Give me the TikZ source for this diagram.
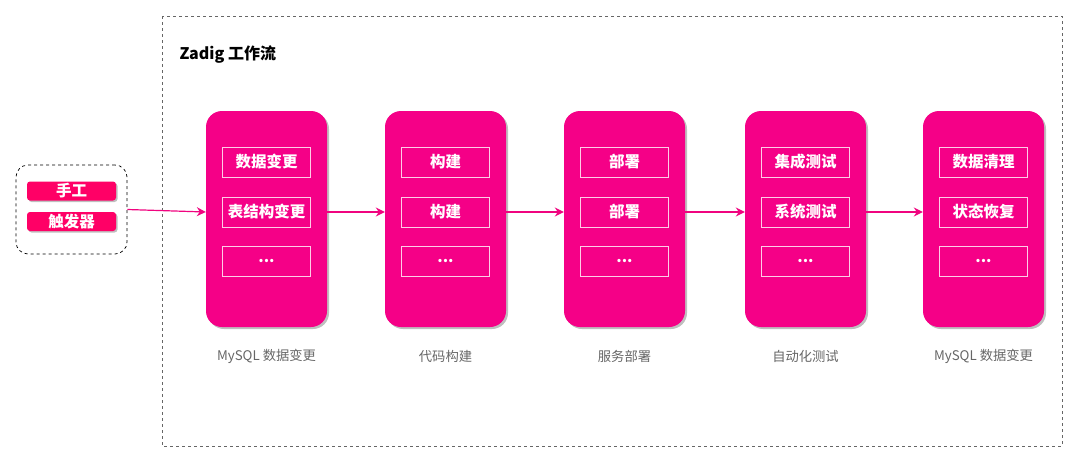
\documentclass[tikz,border=0pt]{standalone}
\usepackage{fontspec}
\setmainfont{Noto Sans CJK SC}
\usetikzlibrary{shadows,arrows.meta}
\definecolor{stagepink}{RGB}{245,0,135}
\definecolor{trigpink}{RGB}{255,0,102}
\definecolor{arrowpink}{RGB}{240,4,127}
\definecolor{labelgray}{RGB}{102,102,102}
\tikzset{
  stagebox/.style={fill=stagepink, draw=none, rounded corners=16pt, minimum width=121pt, minimum height=216pt, inner sep=0pt,
    drop shadow={shadow xshift=2pt, shadow yshift=-2pt, fill=black!25, opacity=1}},
  taskbox/.style={draw=white!80!stagepink, line width=0.8pt, minimum width=88pt, minimum height=30pt, inner sep=0pt,
    text=white, font=\fontsize{15.5}{17}\selectfont\bfseries},
  trigbox/.style={fill=trigpink, rounded corners=3pt, minimum width=89pt, minimum height=19pt, inner sep=0pt,
    text=white, font=\fontsize{15.5}{17}\selectfont\bfseries,
    drop shadow={shadow xshift=1.5pt, shadow yshift=-1.5pt, fill=black!25, opacity=1}},
  stagelabel/.style={text=labelgray, font=\fontsize{13.3}{15}\selectfont},
  flow/.style={draw=arrowpink, line width=1.2pt, -{Stealth[length=9pt,width=9pt,inset=3pt]}},
}
\begin{document}
\begin{tikzpicture}[x=1pt,y=-1pt]
\useasboundingbox (0,0) rectangle (1079,463);
% outer workflow frame
\draw[dashed, draw=black!60, line width=0.6pt] (162,16) rectangle (1062,446);
\node[anchor=west, font=\fontsize{16}{18}\selectfont\bfseries] (title) at (176,55) {Zadig 工作流};
% trigger group
\node[draw=black, dashed, rounded corners=12pt, line width=0.7pt, minimum width=111pt, minimum height=89pt] (trig) at (71.5,209.5) {};
\node[trigbox] (manual) at (71.5,191) {手工};
\node[trigbox] (trigger) at (71.5,221.5) {触发器};
% stages
\foreach \n/\cx in {s1/266.5, s2/445.5, s3/624.5, s4/805.5, s5/983.5}{
  \node[stagebox] (\n) at (\cx,219) {};
}
% tasks
\node[taskbox] (s1a) at (266.5,162) {数据变更};
\node[taskbox] (s1b) at (266.5,212) {表结构变更};
\node[taskbox] (s1c) at (266.5,261.5) {...};
\node[taskbox] (s2a) at (445.5,162) {构建};
\node[taskbox] (s2b) at (445.5,212) {构建};
\node[taskbox] (s2c) at (445.5,261.5) {...};
\node[taskbox] (s3a) at (624.5,162) {部署};
\node[taskbox] (s3b) at (624.5,212) {部署};
\node[taskbox] (s3c) at (624.5,261.5) {...};
\node[taskbox] (s4a) at (805.5,162) {集成测试};
\node[taskbox] (s4b) at (805.5,212) {系统测试};
\node[taskbox] (s4c) at (805.5,261.5) {...};
\node[taskbox] (s5a) at (983.5,162) {数据清理};
\node[taskbox] (s5b) at (983.5,212) {状态恢复};
\node[taskbox] (s5c) at (983.5,261.5) {...};
% labels
\node[stagelabel] (l1) at (266.5,356) {MySQL 数据变更};
\node[stagelabel] (l2) at (445.5,356) {代码构建};
\node[stagelabel] (l3) at (624.5,356) {服务部署};
\node[stagelabel] (l4) at (805.5,356) {自动化测试};
\node[stagelabel] (l5) at (983.5,356) {MySQL 数据变更};
% connectors
\draw[flow] (trig.east) -- (s1.west |- s1b.center);
\draw[flow] (s1.east |- s1b.center) -- (s2.west |- s2b.center);
\draw[flow] (s2.east |- s2b.center) -- (s3.west |- s3b.center);
\draw[flow] (s3.east |- s3b.center) -- (s4.west |- s4b.center);
\draw[flow] (s4.east |- s4b.center) -- (s5.west |- s5b.center);
\end{tikzpicture}
\end{document}
